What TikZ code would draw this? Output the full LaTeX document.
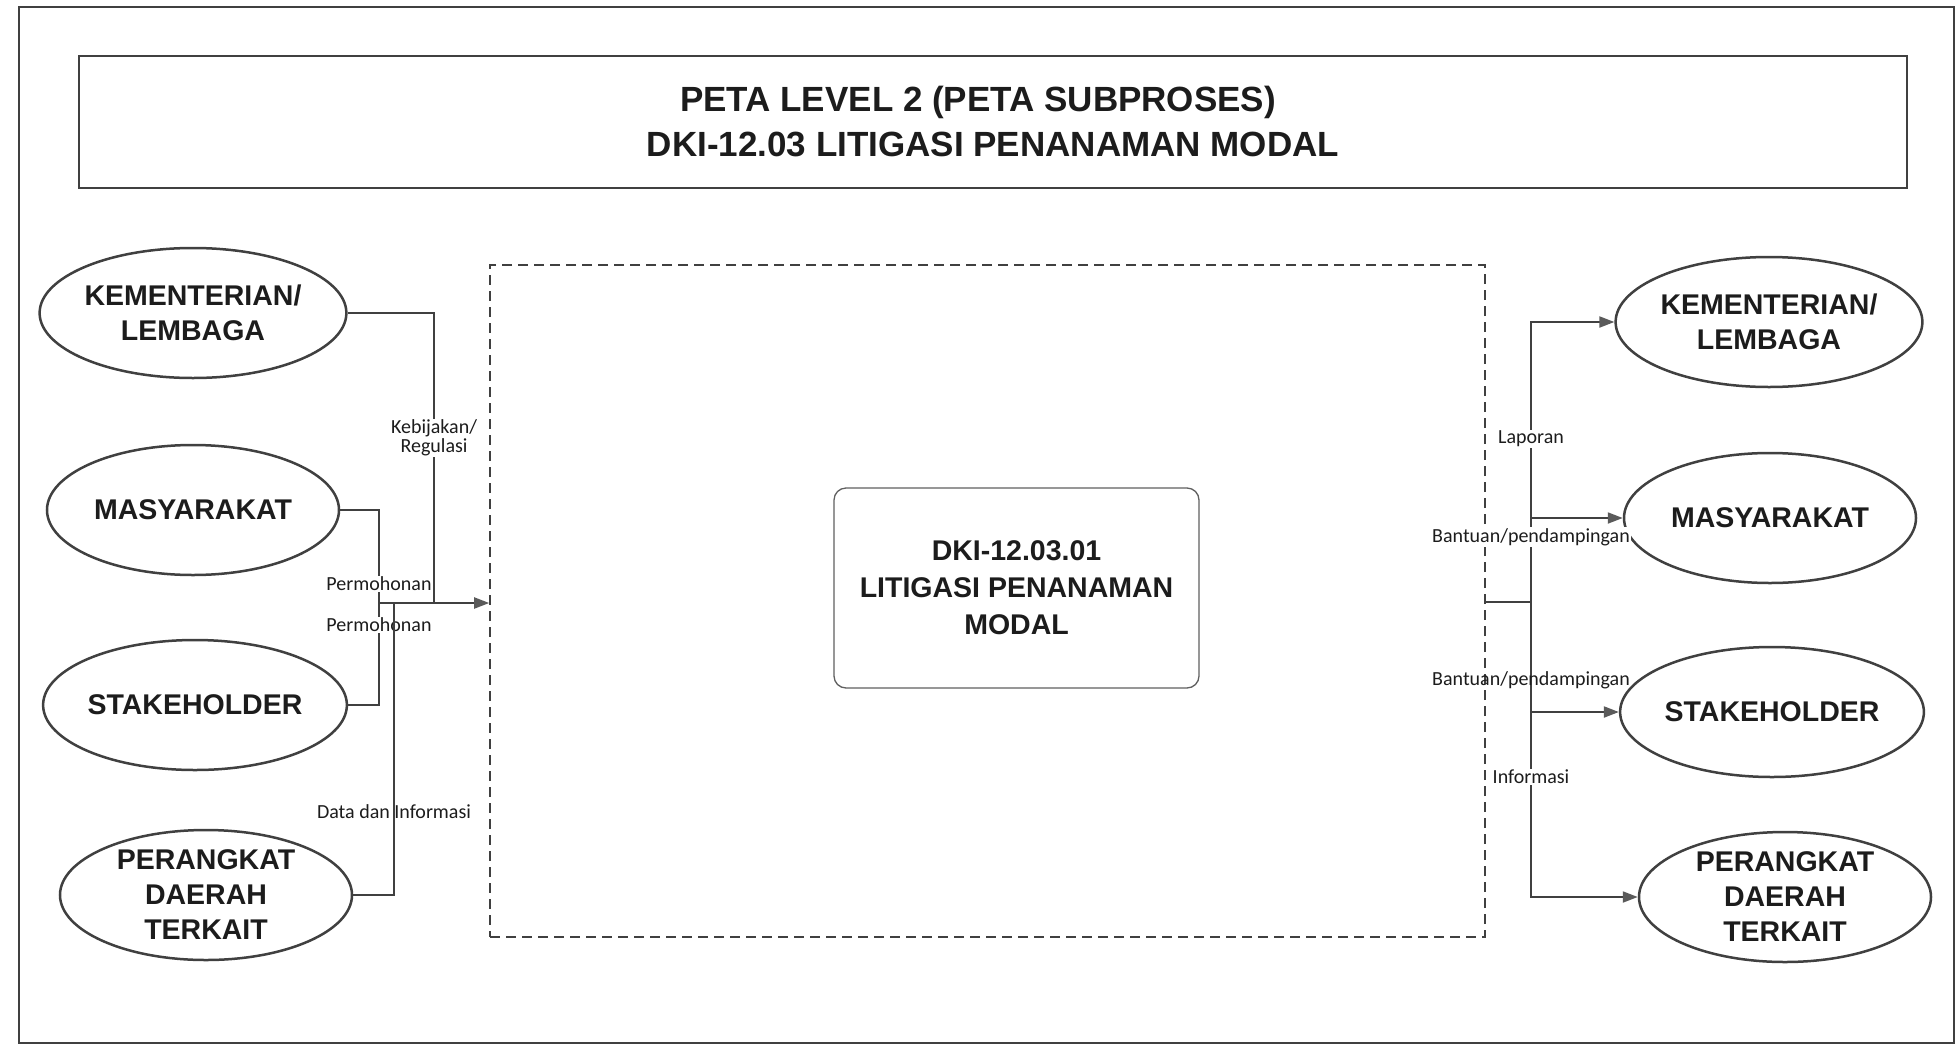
\documentclass[tikz,border=0pt]{standalone}
\usepackage{fontspec}
\setmainfont{Liberation Sans}
\newfontfamily\lblfont{Carlito}
\usetikzlibrary{arrows.meta,shapes.geometric,calc}
\definecolor{ln}{HTML}{404040}
\definecolor{tx}{HTML}{1C1C1C}
\definecolor{tip}{HTML}{5A5A5A}
\begin{document}
\begin{tikzpicture}[x=1pt,y=-1pt,
  ent/.style={ellipse,draw=ln,line width=2.5pt,minimum width=292pt,minimum height=130pt,inner sep=0pt,align=center,text=tx,font=\bfseries\fontsize{28.5}{35}\selectfont},
  conn/.style={draw=ln,line width=2pt},
  arr/.style={conn,-{Triangle[length=15pt,width=11pt,color=tip]}},
  lbl/.style={font=\lblfont\fontsize{20}{19}\selectfont,fill=white,inner sep=1pt,text=tx,align=center},
  lblnf/.style={lbl,fill=none}]
\useasboundingbox (0,0) rectangle (1957,1047);
\fill[white] (0,0) rectangle (1957,1047);
% outer frame
\draw[ln,line width=2.5pt] (19,7) rectangle (1954,1043);
% title
\node[draw=ln,line width=2pt,minimum width=1828pt,minimum height=132pt,inner sep=0pt,align=center,text=tx,font=\bfseries\fontsize{35}{45}\selectfont] (title) at (993,122) {PETA LEVEL 2 (PETA SUBPROSES)\hspace*{30pt}\\DKI-12.03 LITIGASI PENANAMAN MODAL};
% dashed frame
\node[draw=ln,line width=1.6pt,dash pattern=on 10pt off 6pt,minimum width=995pt,minimum height=672pt,inner sep=0pt] (frame) at (987.5,601) {};
% process box
\node[draw=gray!75!black,line width=1.3pt,rounded corners=12pt,minimum width=365pt,minimum height=200pt,inner sep=0pt,align=center,text=tx,font=\bfseries\fontsize{28.5}{37}\selectfont] (proc) at (1016.5,588) {DKI-12.03.01\\LITIGASI PENANAMAN\\MODAL};
% left entities
\node[ent] (lkl) at (193,313) {KEMENTERIAN/\\LEMBAGA};
\node[ent] (lmas) at (193,510) {MASYARAKAT};
\node[ent] (lstk) at (195,705) {STAKEHOLDER};
\node[ent] (lper) at (206,895) {PERANGKAT\\DAERAH\\TERKAIT};
% right entities
\node[ent] (rkl) at (1769,322) {KEMENTERIAN/\\LEMBAGA};
\node[ent] (rmas) at (1770,518) {MASYARAKAT};
\node[ent] (rstk) at (1772,712) {STAKEHOLDER};
\node[ent] (rper) at (1785,897) {PERANGKAT\\DAERAH\\TERKAIT};
% junctions
\coordinate (jK) at (434,603);
\coordinate (jL) at (379,603);
\coordinate (jP) at (394,603);
\coordinate (jR) at (1531,602);
% left connectors
\draw[conn] (lkl.east) -| (jK);
\draw[conn] (lmas.east) -| (jL) |- (lstk.east);
\draw[arr] (jL) -- (jL -| frame.west);
% right connectors
\draw[conn] (jR -| frame.east) -- (jR);
\draw[arr] (jR) |- (rkl.west);
\draw[arr] (jR) |- (rmas.west);
\draw[arr] (jR) |- (rstk.west);
\draw[arr] (jR) |- (rper.west);
% labels
\node[lbl] (lab1) at (434,438) {Kebijakan/\\Regulasi};
\node[lbl] (lab2) at (379,584) {Permohonan};
\node[lbl] (lab3) at (379,625) {Permohonan};
\node[lbl] (lab4) at (394,812) {Data dan Informasi};
\node[lbl] (lab5) at (1531,439) {Laporan};
\node[lbl] (lab6) at (1531,537) {Bantuan/pendampingan};
\node[lblnf] (lab7) at (1531,680) {Bantuan/pendampingan};
\node[lbl] (lab8) at (1531,777) {Informasi};
% connector drawn over labels
\draw[conn] (lper.east) -| (jP);
\end{tikzpicture}
\end{document}
